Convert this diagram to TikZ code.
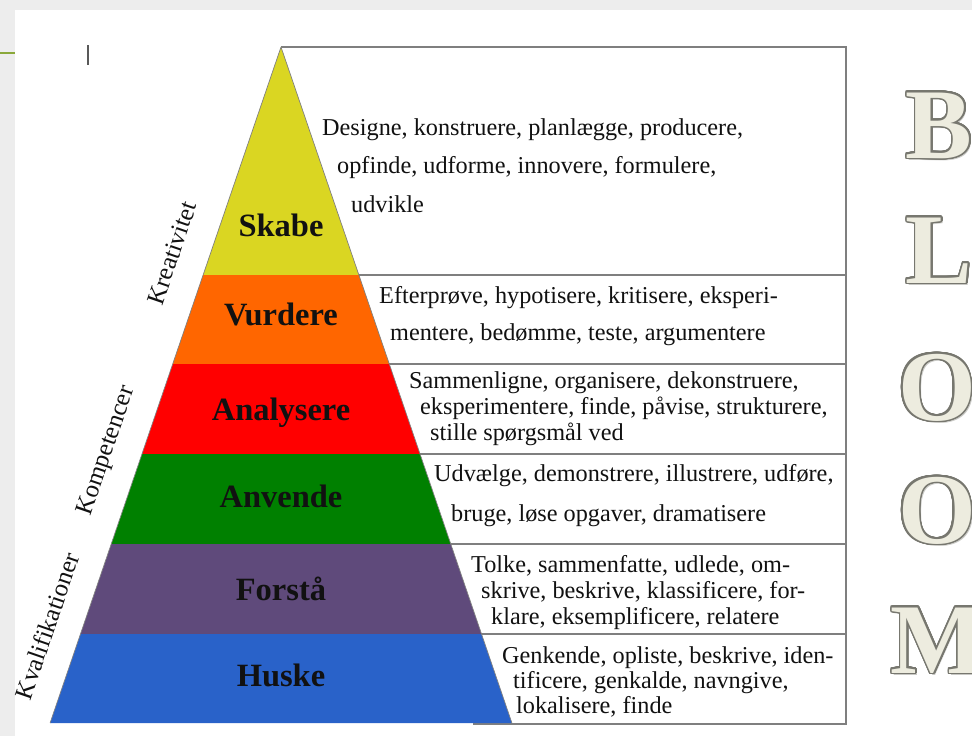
\documentclass[tikz,border=0pt]{standalone}
\usepackage{fontspec}
\setmainfont{Liberation Serif}
\usepackage[copies]{contour}
\usetikzlibrary{patterns}
\definecolor{cYellow}{HTML}{DAD622}
\definecolor{cOrange}{HTML}{FF6600}
\definecolor{cRed}{HTML}{FF0000}
\definecolor{cGreen}{HTML}{008000}
\definecolor{cPurple}{HTML}{5F4A7B}
\definecolor{cBlue}{HTML}{2962C9}
\definecolor{boxline}{HTML}{7F7F7F}
\definecolor{bgGray}{HTML}{EEEEEE}
\definecolor{oliveline}{HTML}{8AA83A}
\definecolor{bloomfill}{HTML}{EDECDF}
\definecolor{bloomline}{HTML}{77776F}
\definecolor{bloomshadow}{HTML}{C8C8C4}
\definecolor{txt}{HTML}{111111}
\contourlength{1.6pt}
\contournumber{32}
\begin{document}
\begin{tikzpicture}[x=1pt,y=-1pt,
  desc/.style={anchor=base west, inner sep=0pt, font=\fontsize{24.25}{28}\selectfont, text=txt},
  level/.style={anchor=base, inner sep=0pt, font=\fontsize{32.5}{38}\selectfont\bfseries, text=txt},
  side/.style={anchor=center, inner sep=0pt, rotate=71, font=\fontsize{25}{30}\selectfont, text=txt},
  bloom/.style={anchor=base, inner sep=0pt, font=\fontsize{100}{110}\selectfont\bfseries},
  rowline/.style={draw=boxline, line width=1.4pt},
  outline/.style={draw=black!50, line width=0.7pt}]
\useasboundingbox (0,0) rectangle (972,736);
\clip (0,0) rectangle (972,736);
% slide background
\fill[bgGray] (0,0) rectangle (972,736);
\fill[pattern=north east lines, pattern color=black!7] (0,0) rectangle (972,736);
\fill[white] (15,10) rectangle (990,750);
\draw[oliveline, line width=2.5pt] (0,53) -- (15,53);
\draw[black!65, line width=1.6pt] (88,45) -- (88,65);
% boxes
\draw[rowline] (281,47) -- (846,47) -- (846,724) -- (473,724);
\draw[rowline] (300,275) -- (846,275);
\draw[rowline] (320,364) -- (846,364);
\draw[rowline] (340,454) -- (846,454);
\draw[rowline] (360,544) -- (846,544);
\draw[rowline] (380,634) -- (846,634);
% pyramid bands
\fill[cYellow] (281,47) -- (358.9,275) -- (203.1,275) -- cycle;
\fill[cOrange] (203.1,275) -- (358.9,275) -- (389.3,364) -- (172.7,364) -- cycle;
\fill[cRed] (172.7,364) -- (389.3,364) -- (420.0,454) -- (142.0,454) -- cycle;
\fill[cGreen] (142.0,454) -- (420.0,454) -- (450.7,544) -- (111.3,544) -- cycle;
\fill[cPurple] (111.3,544) -- (450.7,544) -- (481.5,634) -- (80.5,634) -- cycle;
\fill[cBlue] (80.5,634) -- (481.5,634) -- (511.9,723) -- (50.1,723) -- cycle;
\draw[outline] (281,47) -- (511.9,723) (281,47) -- (50.1,723);
% level names
\node[level] (skabe) at (281,236) {Skabe};
\node[level] (vurdere) at (281,325) {Vurdere};
\node[level] (analysere) at (281,420) {Analysere};
\node[level] (anvende) at (281,507) {Anvende};
\node[level] (forsta) at (281,600) {Forstå};
\node[level] (huske) at (281,686) {Huske};
% descriptions
\node[desc] (d1a) at (322,135) {Designe, konstruere, planlægge, producere,};
\node[desc] (d1b) at (337,173) {opfinde, udforme, innovere, formulere,};
\node[desc] (d1c) at (351,212) {udvikle};
\node[desc] (d2a) at (379,303) {Efterprøve, hypotisere, kritisere, eksperi-};
\node[desc] (d2b) at (390,340) {mentere, bedømme, teste, argumentere};
\node[desc] (d3a) at (409,388) {Sammenligne, organisere, dekonstruere,};
\node[desc] (d3b) at (420,414) {eksperimentere, finde, påvise, strukturere,};
\node[desc] (d3c) at (430,440) {stille spørgsmål ved};
\node[desc] (d4a) at (434,481) {Udvælge, demonstrere, illustrere, udføre,};
\node[desc] (d4b) at (451,521) {bruge, løse opgaver, dramatisere};
\node[desc] (d5a) at (471,572) {Tolke, sammenfatte, udlede, om-};
\node[desc] (d5b) at (481,598) {skrive, beskrive, klassificere, for-};
\node[desc] (d5c) at (491,624) {klare, eksemplificere, relatere};
\node[desc] (d6a) at (502,663) {Genkende, opliste, beskrive, iden-};
\node[desc] (d6b) at (513,688) {tificere, genkalde, navngive,};
\node[desc] (d6c) at (516,713) {lokalisere, finde};
% side labels
\node[side] (kreativitet) at (172,253) {Kreativitet};
\node[side] (kompetencer) at (107,451) {Kompetencer};
\node[side] (kvalifikationer) at (47,626) {Kvalifikationer};
% BLOOM (soft shadow, then outlined letters)
\node[bloom, text=bloomshadow] (sB) at (941,160.5) {B};
\node[bloom, text=bloomshadow] (sL) at (941,285.5) {L};
\node[bloom, text=bloomshadow] (sO1) at (939,422.5) {O};
\node[bloom, text=bloomshadow] (sO2) at (939,545.5) {O};
\node[bloom, text=bloomshadow] (sM) at (940,675.5) {M};
\node[bloom] (bB) at (939,158) {\contour{bloomline}{\textcolor{bloomfill}{B}}};
\node[bloom] (bL) at (939,283) {\contour{bloomline}{\textcolor{bloomfill}{L}}};
\node[bloom] (bO1) at (937,420) {\contour{bloomline}{\textcolor{bloomfill}{O}}};
\node[bloom] (bO2) at (937,543) {\contour{bloomline}{\textcolor{bloomfill}{O}}};
\node[bloom] (bM) at (938,673) {\contour{bloomline}{\textcolor{bloomfill}{M}}};
\end{tikzpicture}
\end{document}
